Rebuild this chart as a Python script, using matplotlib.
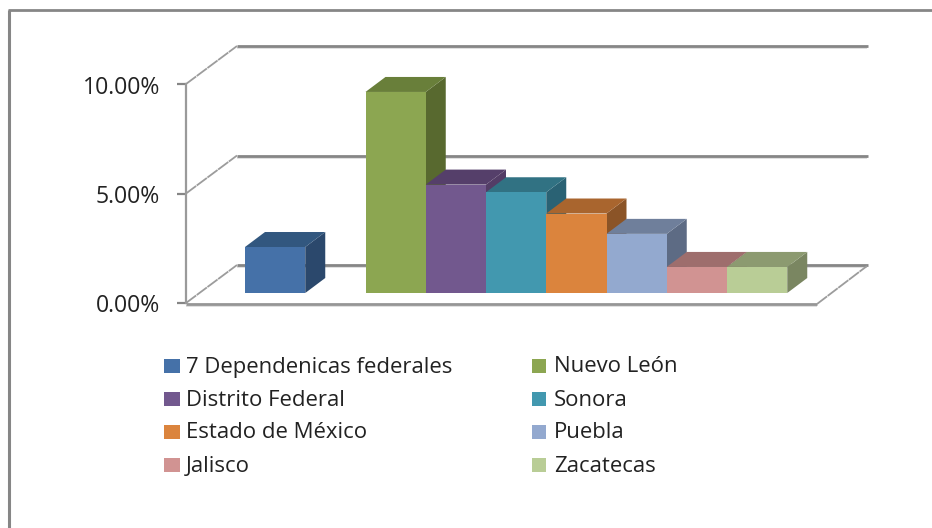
import matplotlib
matplotlib.use("Agg")
import matplotlib.pyplot as plt
from matplotlib.patches import Polygon, Rectangle

# --- Data ---
categories = ["7 Dependenicas federales", "Nuevo León", "Distrito Federal", "Sonora",
              "Estado de México", "Puebla", "Jalisco", "Zacatecas"]
values = [2.1, 9.18, 4.95, 4.6, 3.63, 2.7, 1.19, 1.19]
slots = [0, 2, 3, 4, 5, 6, 7, 8]  # one empty slot after the first bar
y_ticks = [0, 5, 10]
y_labels = ["0.00%", "5.00%", "10.00%"]

front_colors = ["#4571A8", "#8CA651", "#72588E", "#4298AF", "#DB843D", "#93A9CF", "#D19392", "#B9CD96"]
top_colors = ["#32577F", "#697F3A", "#553F6A", "#317283", "#A9652E", "#6F7F9B", "#9E6E6D", "#8C9A70"]
side_colors = ["#2B486C", "#58692F", "#533D66", "#2A6274", "#8B5427", "#5D6B84", "#7C5858", "#7A8661"]

# --- Layout (pixels of the 932x528 figure) ---
W, H = 932, 528
SLOT_PX = 60.25
PCT_PX = 21.9
BAR_X0 = 245
BAR_BASE = 293
DX, DY = 20 / SLOT_PX, 15 / PCT_PX  # bar depth in data units

GRID = "#868686"
SHADOW = "#DADADA"


def px_x(p):
    return (p - BAR_X0) / SLOT_PX


def px_y(p):
    return (BAR_BASE - p) / PCT_PX


plt.rcParams["font.family"] = ["Open Sans", "DejaVu Sans"]

fig = plt.figure(figsize=(W / 100, H / 100), dpi=100)
ax = fig.add_axes([0, 0, 1, 1])
ax.set_xlim(px_x(0), px_x(W))
ax.set_ylim(px_y(H), px_y(0))
ax.axis("off")

# outer chart border
ax.plot([px_x(9.5), px_x(9.5)], [px_y(H), px_y(10)], color=GRID, lw=2.2, solid_capstyle="butt")
ax.plot([px_x(8.4), px_x(W)], [px_y(10), px_y(10)], color=GRID, lw=2.0, solid_capstyle="butt")

# walls: value v on the front plane sits at y=303-v*PCT_PX, on the back plane 38 px higher
for v in y_ticks:
    yf = px_y(303) + v
    yb = px_y(265) + v
    ax.plot([px_x(237), px_x(867)], [yb - 2 / PCT_PX] * 2, color=SHADOW, lw=1.2, solid_capstyle="butt", zorder=1)
    ax.plot([px_x(237), px_x(868)], [yb, yb], color=GRID, lw=2.0, solid_capstyle="butt", zorder=1)
    ax.plot([px_x(186), px_x(237)], [yf, yb], color="#9C9C9C", lw=1.3, ls=(0, (7, 0.4)), zorder=1)
    ax.plot([px_x(177), px_x(186)], [yf, yf], color=GRID, lw=1.6, solid_capstyle="butt", zorder=2)

for v, lab in zip(y_ticks, y_labels):
    ax.text(px_x(160), px_y(306.5) + v, lab, ha="right", va="center", fontsize=16.6, color="#222222")

ax.plot([px_x(186), px_x(186)], [px_y(303), px_y(84)], color="#9A9A9A", lw=1.6, zorder=2)
# floor front and right edges
ax.plot([px_x(186), px_x(817)], [px_y(306), px_y(306)], color=SHADOW, lw=1.2, solid_capstyle="butt", zorder=2)
ax.plot([px_x(186), px_x(817)], [px_y(304), px_y(304)], color="#969696", lw=2.0, solid_capstyle="butt", zorder=2)
ax.plot([px_x(817), px_x(867)], [px_y(304), px_y(266)], color="#9C9C9C", lw=1.3, ls=(0, (7, 0.4)), zorder=2)

# bars, left to right so that each front face overlaps its neighbour's side
for i, (s, v) in enumerate(zip(slots, values)):
    ax.add_patch(Polygon([(s + 1, 0), (s + 1 + DX, DY), (s + 1 + DX, v + DY), (s + 1, v)],
                         fc=side_colors[i], ec="none", zorder=3 + i))
    ax.add_patch(Polygon([(s, v), (s + DX, v + DY), (s + 1 + DX, v + DY), (s + 1, v)],
                         fc=top_colors[i], ec="none", zorder=3 + i))
    ax.add_patch(Rectangle((s, 0), 1, v, fc=front_colors[i], ec="none", zorder=3 + i))

# legend, two columns
leg_x = [164, 532]
leg_w = [16, 14]
leg_text_x = [186, 554]
leg_y = [365.5, 399, 431.5, 464.5]
for i, name in enumerate(categories):
    col = i % 2
    yc = leg_y[i // 2]
    ax.add_patch(Rectangle((px_x(leg_x[col]), px_y(yc + 7)), leg_w[col] / SLOT_PX, 14 / PCT_PX,
                           fc=front_colors[i], ec="none"))
    ax.text(px_x(leg_text_x[col]), px_y(yc + 1.5), name, ha="left", va="center", fontsize=15.9, color="#222222")

fig.savefig("out.png", dpi=100)
